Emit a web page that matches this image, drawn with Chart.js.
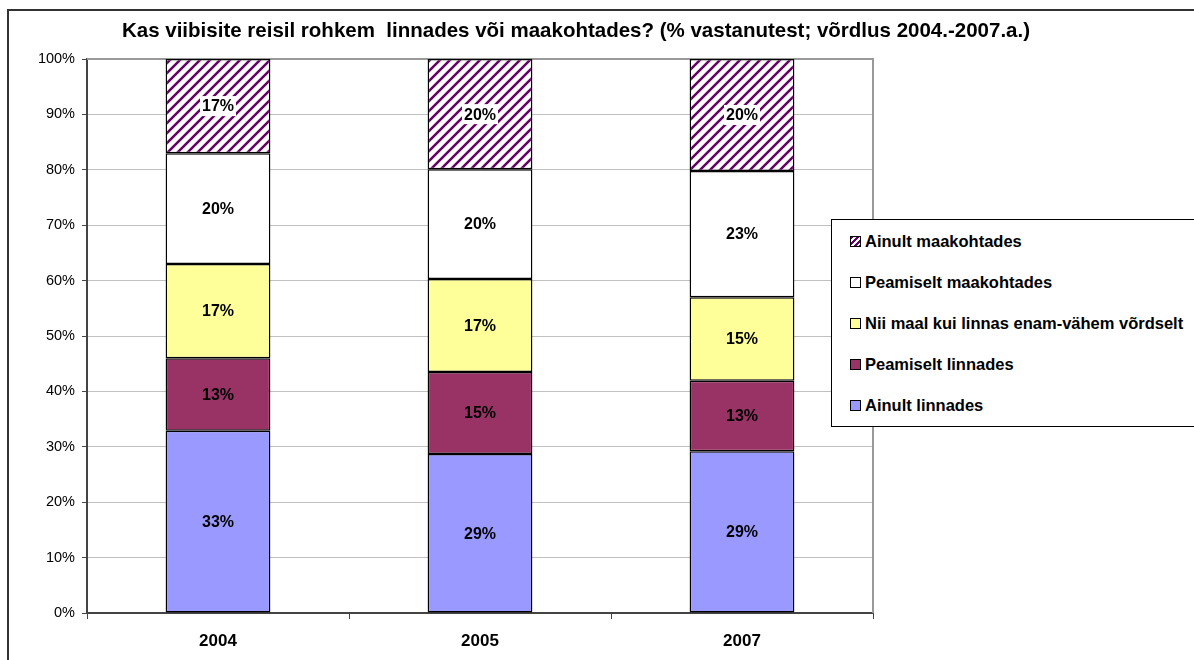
<!DOCTYPE html>
<html>
<head>
<meta charset="utf-8">
<script src="https://cdn.jsdelivr.net/npm/chart.js@4/dist/chart.umd.min.js"></script>
<style>
  html, body { margin: 0; padding: 0; background: #fff; overflow: hidden; }
  body { width: 1194px; height: 660px; position: relative; font-family: 'Liberation Sans', Arial, sans-serif; }
  #frame { position: absolute; left: 7px; top: 9px; width: 1300px; height: 800px; border: 2px solid #333; box-sizing: border-box; }
  #title { position: absolute; left: 0; top: 18px; width: 1152px; text-align: center; font-weight: bold; font-size: 20.5px; line-height: 24px; white-space: nowrap; color: #000; }
  #wrap { position: absolute; left: 0; top: 0; width: 1194px; height: 660px; }
  #chart { display: block; }
  #legend { position: absolute; left: 831px; top: 219px; width: 420px; height: 208px; border: 1px solid #000; background: #fff; box-sizing: border-box; padding-top: 11px; }
  .item { height: 20px; margin-bottom: 21px; display: flex; align-items: center; padding-left: 18px; font-weight: bold; font-size: 16.5px; white-space: nowrap; }
  .mark { width: 11px; height: 11px; box-sizing: border-box; border: 1px solid #000; margin-right: 4px; }
</style>
</head>
<body>
<div id="frame"></div>
<div id="wrap"><canvas id="chart" width="1194" height="660"></canvas></div>
<div id="title">Kas viibisite reisil rohkem&nbsp; linnades või maakohtades? (% vastanutest; võrdlus 2004.-2007.a.)</div>
<div id="legend"></div>
<script>
// ── Data ──────────────────────────────────────────────────────
const years = ['2004', '2005', '2007'];
const seriesNames = ['Ainult linnades', 'Peamiselt linnades', 'Nii maal kui linnas enam-vähem võrdselt', 'Peamiselt maakohtades', 'Ainult maakohtades'];
const ainultLinnades = [32.9, 28.7, 29.2];
const peamiseltLinnades = [13.1, 14.8, 12.7];
const niiMaalKuiLinnas = [17.0, 16.8, 15.1];
const peamiseltMaakohtades = [20.0, 19.8, 22.8];
const ainultMaakohtades = [17.0, 19.9, 20.2];
const yTicks = [0, 10, 20, 30, 40, 50, 60, 70, 80, 90, 100];

// ── Hatch pattern for "Ainult maakohtades" ───────────────────
function makeHatch() {
  const c = document.createElement('canvas');
  c.width = 10; c.height = 10;
  const g = c.getContext('2d');
  g.fillStyle = '#fff';
  g.fillRect(0, 0, 10, 10);
  g.strokeStyle = '#660066';
  g.lineWidth = 2.5;
  g.beginPath();
  g.moveTo(-5, 5); g.lineTo(5, -5);
  g.moveTo(0, 10); g.lineTo(10, 0);
  g.moveTo(5, 15); g.lineTo(15, 5);
  g.stroke();
  return g.createPattern(c, 'repeat');
}

const colors = ['#9999ff', '#993366', '#ffff99', '#ffffff', makeHatch()];
const legendCss = ['#9999ff', '#993366', '#ffff99', '#ffffff',
  'repeating-linear-gradient(135deg, #660066 0 2px, #fff 2px 4px)'];
const allData = [ainultLinnades, peamiseltLinnades, niiMaalKuiLinnas, peamiseltMaakohtades, ainultMaakohtades];

// ── Plugins ───────────────────────────────────────────────────
const plotBorder = {
  id: 'plotBorder',
  beforeDatasetsDraw(chart) {
    const { ctx, chartArea: a } = chart;
    ctx.save();
    ctx.strokeStyle = '#999';
    ctx.lineWidth = 2;
    ctx.beginPath();
    ctx.moveTo(a.left, a.top);
    ctx.lineTo(a.right, a.top);
    ctx.lineTo(a.right, a.bottom);
    ctx.stroke();
    ctx.restore();
  }
};

const barLabels = {
  id: 'barLabels',
  afterDatasetsDraw(chart) {
    const ctx = chart.ctx;
    ctx.save();
    ctx.font = "bold 16px 'Liberation Sans', Arial, sans-serif";
    ctx.textAlign = 'center';
    ctx.textBaseline = 'middle';
    chart.data.datasets.forEach((ds, di) => {
      const meta = chart.getDatasetMeta(di);
      meta.data.forEach((bar, i) => {
        const txt = Math.round(ds.data[i]) + '%';
        const y = (bar.y + bar.base) / 2;
        if (di === 4) {
          const w = ctx.measureText(txt).width;
          ctx.fillStyle = '#fff';
          ctx.fillRect(bar.x - w / 2 - 2, y - 10, w + 4, 20);
        }
        ctx.fillStyle = '#000';
        ctx.fillText(txt, bar.x, y + 1);
      });
    });
    ctx.restore();
  }
};

// ── Chart ─────────────────────────────────────────────────────
Chart.defaults.font.family = "'Liberation Sans', Arial, sans-serif";
Chart.defaults.color = '#000';

new Chart(document.getElementById('chart'), {
  type: 'bar',
  data: {
    labels: years,
    datasets: seriesNames.map((name, i) => ({
      label: name,
      data: allData[i],
      backgroundColor: colors[i],
      borderColor: '#000',
      borderWidth: 1.5,
      borderSkipped: false,
      barPercentage: 0.4,
      categoryPercentage: 1.0
    }))
  },
  options: {
    responsive: false,
    animation: false,
    devicePixelRatio: 1,
    layout: { padding: { top: 59, right: 321, left: 0, bottom: 0 } },
    plugins: { legend: { display: false }, title: { display: false }, tooltip: { enabled: false } },
    scales: {
      x: {
        stacked: true,
        grid: { offset: true, drawOnChartArea: false, tickLength: 6, tickColor: '#444', lineWidth: 1 },
        border: { color: '#444', width: 2 },
        ticks: { font: { size: 17, weight: 'bold' }, padding: 12, color: '#000', maxRotation: 0 },
        afterFit(s) { s.height = 47; }
      },
      y: {
        stacked: true,
        min: 0,
        max: 100,
        afterBuildTicks(s) { s.ticks = yTicks.map(v => ({ value: v })); },
        grid: { color: '#c0c0c0', tickColor: '#444', tickLength: 5, lineWidth: 1 },
        border: { color: '#444', width: 2 },
        ticks: { font: { size: 14.5 }, padding: 7, color: '#000', callback: v => v + '%' },
        afterFit(s) { s.width = 87; }
      }
    }
  },
  plugins: [plotBorder, barLabels]
});

// ── HTML legend (top-down order as in the original) ──────────
const legendEl = document.getElementById('legend');
for (let i = seriesNames.length - 1; i >= 0; i--) {
  const row = document.createElement('div');
  row.className = 'item';
  const m = document.createElement('span');
  m.className = 'mark';
  m.style.background = legendCss[i];
  row.appendChild(m);
  row.appendChild(document.createTextNode(seriesNames[i]));
  legendEl.appendChild(row);
}
</script>
</body>
</html>
